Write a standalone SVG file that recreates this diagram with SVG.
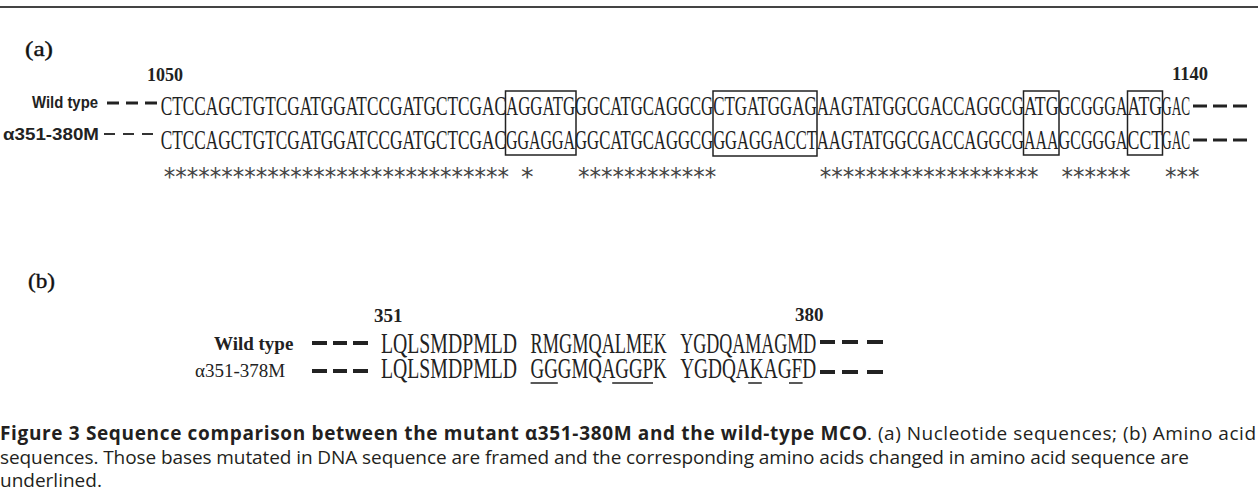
<svg xmlns="http://www.w3.org/2000/svg" width="1258" height="497" viewBox="0 0 1258 497">
<style>
.seqA{font-family:"Liberation Serif",serif;font-size:27px;fill:#222}
.seqB{font-family:"Liberation Serif",serif;font-size:29px;fill:#222}
.ast{font-family:"DejaVu Sans",sans-serif;font-size:25px;fill:#444}
.lblA{font-family:"Liberation Sans",sans-serif;font-size:16px;font-weight:bold;fill:#222}
.num{font-family:"Liberation Serif",serif;font-size:19px;font-weight:bold;fill:#222}
.panel{font-family:"Liberation Serif",serif;font-size:21px;fill:#111;stroke:#111;stroke-width:0.4}
.lblB{font-family:"Liberation Serif",serif;font-size:19px;fill:#222}
.cap{font-family:"Open Sans",sans-serif;font-size:19px;fill:#231f20}
.dash3{stroke:#222;stroke-width:3}
.dash2{stroke:#333;stroke-width:2}
.dash4{stroke:#222;stroke-width:4}
.box{fill:none;stroke:#222;stroke-width:1.5}
.ul{stroke:#222;stroke-width:1.5}
</style>
<line x1="0" y1="7" x2="1258" y2="7" stroke="#444" stroke-width="2"/>

<g id="panel-a">
  <text class="panel" x="25" y="56" textLength="28" lengthAdjust="spacingAndGlyphs">(a)</text>
  <text class="num" x="147" y="81" textLength="36" lengthAdjust="spacingAndGlyphs">1050</text>
  <text class="num" x="1172" y="80" textLength="36" lengthAdjust="spacingAndGlyphs">1140</text>

  <g id="row-wild-a">
    <text class="lblA" x="32" y="108" textLength="66" lengthAdjust="spacingAndGlyphs">Wild type</text>
    <line class="dash3" x1="107" y1="103" x2="119" y2="103"/>
    <line class="dash3" x1="126" y1="103" x2="138" y2="103"/>
    <line class="dash3" x1="145" y1="103" x2="157" y2="103"/>
    <text class="seqA" y="115"><tspan x="160.7" textLength="345.3" lengthAdjust="spacingAndGlyphs">CTCCAGCTGTCGATGGATCCGATGCTCGAC</tspan><tspan x="506" textLength="69.06" lengthAdjust="spacingAndGlyphs">AGGATG</tspan><tspan x="575.06" textLength="138.12" lengthAdjust="spacingAndGlyphs">GGCATGCAGGCG</tspan><tspan x="713.18" textLength="103.59" lengthAdjust="spacingAndGlyphs">CTGATGGAG</tspan><tspan x="816.77" textLength="207.18" lengthAdjust="spacingAndGlyphs">AAGTATGGCGACCAGGCG</tspan><tspan x="1023.95" textLength="34.53" lengthAdjust="spacingAndGlyphs">ATG</tspan><tspan x="1058.48" textLength="69.06" lengthAdjust="spacingAndGlyphs">GCGGGA</tspan><tspan x="1127.54" textLength="34.53" lengthAdjust="spacingAndGlyphs">ATG</tspan><tspan x="1162.07" textLength="28" lengthAdjust="spacingAndGlyphs">GAC</tspan></text>
    <line class="dash3" x1="1193" y1="106" x2="1207" y2="106"/>
    <line class="dash3" x1="1213" y1="106" x2="1227" y2="106"/>
    <line class="dash3" x1="1233" y1="106" x2="1247" y2="106"/>
  </g>

  <g id="row-mutant-a">
    <text class="lblA" x="3" y="140" textLength="96" lengthAdjust="spacingAndGlyphs">α351-380M</text>
    <line class="dash2" x1="104" y1="134" x2="115" y2="134"/>
    <line class="dash2" x1="123" y1="134" x2="134" y2="134"/>
    <line class="dash2" x1="142" y1="134" x2="153" y2="134"/>
    <text class="seqA" y="149"><tspan x="160.7" textLength="345.3" lengthAdjust="spacingAndGlyphs">CTCCAGCTGTCGATGGATCCGATGCTCGAC</tspan><tspan x="506" textLength="69.06" lengthAdjust="spacingAndGlyphs">GGAGGA</tspan><tspan x="575.06" textLength="138.12" lengthAdjust="spacingAndGlyphs">GGCATGCAGGCG</tspan><tspan x="713.18" textLength="103.59" lengthAdjust="spacingAndGlyphs">GGAGGACCT</tspan><tspan x="816.77" textLength="207.18" lengthAdjust="spacingAndGlyphs">AAGTATGGCGACCAGGCG</tspan><tspan x="1023.95" textLength="34.53" lengthAdjust="spacingAndGlyphs">AAA</tspan><tspan x="1058.48" textLength="69.06" lengthAdjust="spacingAndGlyphs">GCGGGA</tspan><tspan x="1127.54" textLength="34.53" lengthAdjust="spacingAndGlyphs">CCT</tspan><tspan x="1162.07" textLength="28" lengthAdjust="spacingAndGlyphs">GAC</tspan></text>
    <line class="dash3" x1="1193" y1="140" x2="1207" y2="140"/>
    <line class="dash3" x1="1213" y1="140" x2="1227" y2="140"/>
    <line class="dash3" x1="1233" y1="140" x2="1247" y2="140"/>
  </g>

  <g id="boxes-a">
    <rect class="box" x="505.5" y="91" width="70.5" height="64"/>
    <rect class="box" x="713" y="91" width="104" height="65"/>
    <rect class="box" x="1023.5" y="91" width="35.5" height="64"/>
    <rect class="box" x="1127.5" y="91" width="35" height="64" stroke="#555"/>
  </g>

  <g id="conservation-a">
    <text class="ast" y="185"><tspan x="163.7" textLength="345.3" lengthAdjust="spacingAndGlyphs">******************************</tspan><tspan x="521">*</tspan><tspan x="578.06" textLength="138.12" lengthAdjust="spacingAndGlyphs">************</tspan><tspan x="819.77" textLength="218.69" lengthAdjust="spacingAndGlyphs">*******************</tspan><tspan x="1061.48" textLength="69.06" lengthAdjust="spacingAndGlyphs">******</tspan><tspan x="1165.07" textLength="34.53" lengthAdjust="spacingAndGlyphs">***</tspan></text>
  </g>
</g>

<g id="panel-b">
  <text class="panel" x="28" y="288" textLength="27" lengthAdjust="spacingAndGlyphs">(b)</text>
  <text class="num" x="374" y="322">351</text>
  <text class="num" x="795" y="321">380</text>

  <g id="row-wild-b">
    <text class="lblB" x="214" y="350" font-weight="bold">Wild type</text>
    <line class="dash4" x1="312" y1="343" x2="327" y2="343"/>
    <line class="dash4" x1="333" y1="343" x2="347" y2="343"/>
    <line class="dash4" x1="353" y1="343" x2="368" y2="343"/>
    <text class="seqB" y="353"><tspan x="381" textLength="136" lengthAdjust="spacingAndGlyphs">LQLSMDPMLD</tspan><tspan x="530.6" textLength="136" lengthAdjust="spacingAndGlyphs">RMGMQALMEK</tspan><tspan x="680.2" textLength="136" lengthAdjust="spacingAndGlyphs">YGDQAMAGMD</tspan></text>
    <line class="dash4" x1="820" y1="342" x2="835" y2="342"/>
    <line class="dash4" x1="842" y1="342" x2="858" y2="342"/>
    <line class="dash4" x1="867" y1="342" x2="883" y2="342"/>
  </g>

  <g id="row-mutant-b">
    <text class="lblB" x="195" y="377">α351-378M</text>
    <line class="dash4" x1="312" y1="371" x2="327" y2="371"/>
    <line class="dash4" x1="333" y1="371" x2="347" y2="371"/>
    <line class="dash4" x1="353" y1="371" x2="368" y2="371"/>
    <text class="seqB" y="378"><tspan x="381" textLength="136" lengthAdjust="spacingAndGlyphs">LQLSMDPMLD</tspan><tspan x="530.6" textLength="136" lengthAdjust="spacingAndGlyphs">GGGMQAGGPK</tspan><tspan x="680.2" textLength="136" lengthAdjust="spacingAndGlyphs">YGDQAKAGFD</tspan></text>
    <line class="dash4" x1="820" y1="372" x2="835" y2="372"/>
    <line class="dash4" x1="842" y1="372" x2="858" y2="372"/>
    <line class="dash4" x1="867" y1="372" x2="883" y2="372"/>
    <line class="ul" x1="530.6" y1="383" x2="557.8" y2="383"/>
    <line class="ul" x1="612.2" y1="383" x2="653" y2="383"/>
    <line class="ul" x1="748.2" y1="383" x2="761.8" y2="383"/>
    <line class="ul" x1="789" y1="383" x2="802.6" y2="383"/>
  </g>
</g>

<g id="caption">
  <text class="cap" y="440"><tspan x="0" font-weight="bold" textLength="867" lengthAdjust="spacing">Figure 3 Sequence comparison between the mutant α351-380M and the wild-type MCO</tspan><tspan x="867" textLength="389" lengthAdjust="spacing">. (a) Nucleotide sequences; (b) Amino acid</tspan></text>
  <text class="cap" x="0" y="464" textLength="1189" lengthAdjust="spacing">sequences. Those bases mutated in DNA sequence are framed and the corresponding amino acids changed in amino acid sequence are</text>
  <text class="cap" x="0" y="487">underlined.</text>
</g>
</svg>
